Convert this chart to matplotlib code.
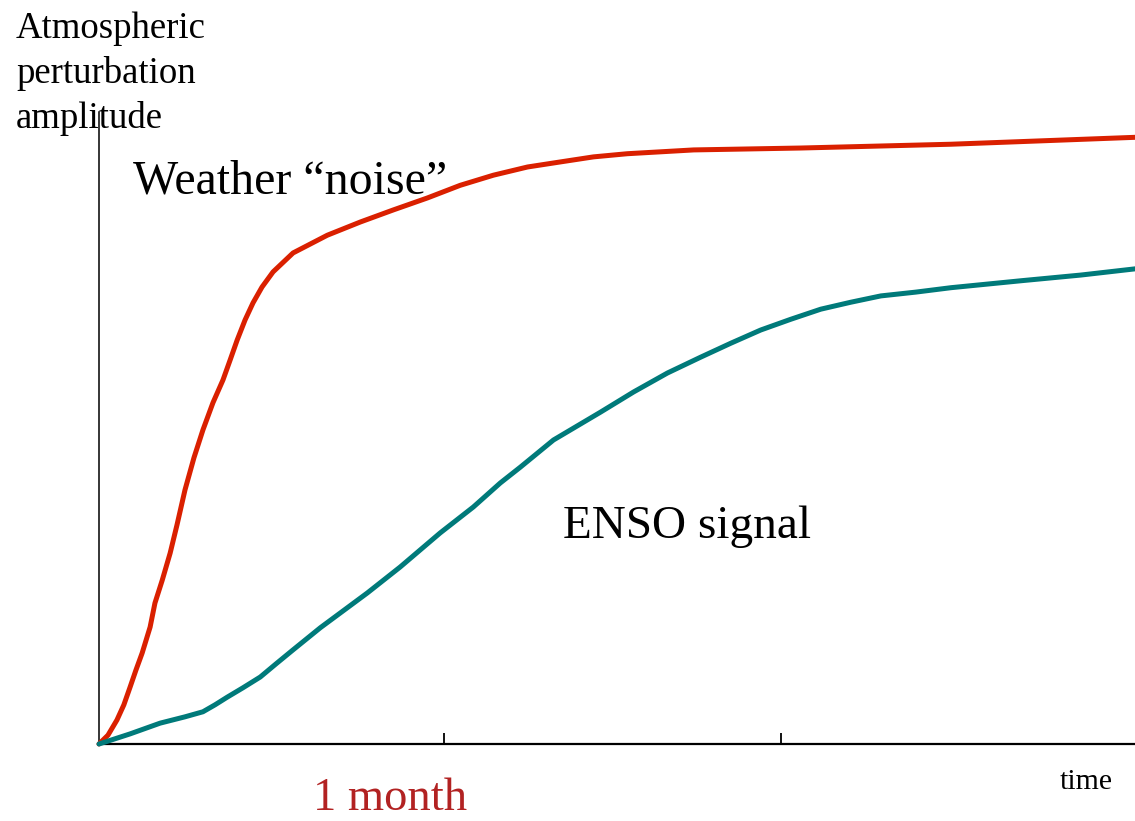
"""Weather noise vs ENSO signal growth of atmospheric perturbations."""

import matplotlib
matplotlib.use('Agg')
import matplotlib.pyplot as plt

# time in months, amplitude in arbitrary units (0-1)
noise_t = [0, 0.026, 0.052, 0.072, 0.090, 0.107, 0.125, 0.148, 0.162, 0.183,
           0.206, 0.226, 0.249, 0.275, 0.301, 0.330, 0.359, 0.380, 0.400,
           0.423, 0.446, 0.472, 0.504, 0.562, 0.661, 0.757, 0.852, 0.951,
           1.046, 1.142, 1.241, 1.336, 1.432, 1.530, 1.626, 1.722, 2.032,
           2.467, 3.003]
noise_amp = [0, 0.014, 0.038, 0.062, 0.090, 0.117, 0.144, 0.185, 0.223, 0.259,
             0.302, 0.347, 0.402, 0.453, 0.497, 0.540, 0.576, 0.608, 0.639,
             0.671, 0.698, 0.723, 0.747, 0.777, 0.805, 0.826, 0.845, 0.864,
             0.884, 0.900, 0.913, 0.921, 0.929, 0.934, 0.937, 0.940, 0.943,
             0.949, 0.960]

enso_t = [0, 0.090, 0.177, 0.249, 0.301, 0.336, 0.371, 0.417, 0.467, 0.513,
          0.562, 0.641, 0.777, 0.872, 0.988, 1.084, 1.162, 1.220, 1.316,
          1.452, 1.548, 1.646, 1.742, 1.829, 1.916, 2.003, 2.090, 2.177,
          2.264, 2.365, 2.467, 2.670, 2.843, 3.003]
enso_amp = [0, 0.016, 0.033, 0.043, 0.051, 0.062, 0.074, 0.089, 0.106, 0.127,
            0.149, 0.184, 0.239, 0.280, 0.334, 0.375, 0.413, 0.438, 0.481,
            0.525, 0.557, 0.587, 0.612, 0.634, 0.655, 0.672, 0.688, 0.699,
            0.709, 0.715, 0.722, 0.733, 0.742, 0.752]

tick_months = [1.0, 1.975]

W, H = 1135, 821
plt.rcParams['font.family'] = ['Liberation Serif', 'DejaVu Serif']

fig = plt.figure(figsize=(W / 100, H / 100), dpi=100)


def px(x, y):
    # pixel position (from top-left) -> figure fraction
    return x / W, 1 - y / H


ax = fig.add_axes([99 / W, 1 - 744 / H, 1 - 99 / W, (744 - 112) / H])
ax.plot(noise_t, noise_amp, color='#DA2000', lw=3.6, clip_on=False,
        solid_capstyle='round', solid_joinstyle='round', zorder=3)
ax.plot(enso_t, enso_amp, color='#007A7A', lw=3.6, clip_on=False,
        solid_capstyle='round', solid_joinstyle='round', zorder=3)

ax.set_xlim(0, 3.0)
ax.set_ylim(0, 1)
ax.spines['top'].set_visible(False)
ax.spines['right'].set_visible(False)
ax.spines['bottom'].set_linewidth(1.6)
ax.spines['left'].set_linewidth(1.1)
ax.set_xticks(tick_months)
ax.set_xticklabels([])
ax.set_yticks([])
ax.tick_params(axis='x', direction='in', length=8, width=1.3)

fig.text(*px(16, 12), 'Atmospheric\nperturbation\namplitude',
         fontsize=26.5, va='top', ha='left', linespacing=1.36)
fig.text(*px(133, 193), 'Weather \u201cnoise\u201d', fontsize=34.5,
         va='baseline', ha='left')
fig.text(*px(563, 538), 'ENSO signal', fontsize=34,
         va='baseline', ha='left')
fig.text(*px(313, 810), '1 month', fontsize=33.5, color='#B22222',
         va='baseline', ha='left')
fig.text(*px(1060, 789), 'time', fontsize=21.5, va='baseline', ha='left')

fig.savefig('out.png', dpi=100)
